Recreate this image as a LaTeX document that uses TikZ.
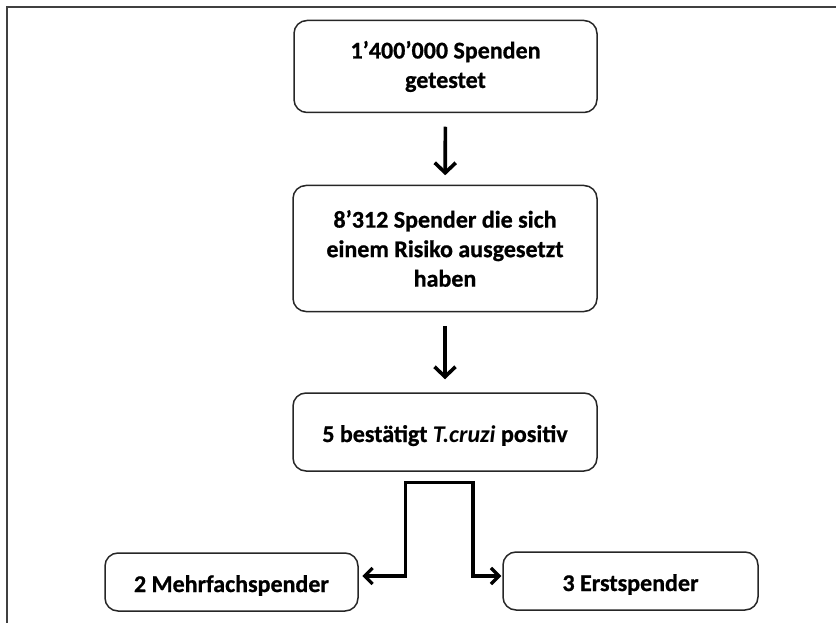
\documentclass[tikz,border=0pt]{standalone}
\usepackage{fontspec}
\setmainfont{Carlito}[BoldFeatures={FakeBold=0.8}]
\usetikzlibrary{arrows.meta,positioning}

\tikzset{
  stepbox/.style={draw=black!85,line width=1.5pt,rounded corners=13pt,
    align=center,font=\bfseries,inner sep=0pt},
  oneline/.style={text height=20pt,text depth=0pt},
  flow/.style={line width=3.6pt,-{Straight Barb[length=10pt,width=21pt]}},
  split/.style={line width=3.2pt,-{Straight Barb[length=8pt,width=16pt]}}
}

\begin{document}
\fontsize{24}{29.5}\selectfont
\begin{tikzpicture}[x=1pt,y=-1pt]
        % draw the frame
        \useasboundingbox (0,0) rectangle (836,623);
        \draw[black!75,line width=2pt] (836,7) -- (7,7) -- (7,623);
        % draw the boxes
        \node[stepbox,minimum width=303pt,minimum height=92pt] (tested) at (445.5,66.5) {1’400’000 Spenden\\getestet};
        \node[stepbox,minimum width=304pt,minimum height=126pt] (risk) at (445,248.5) {8’312 Spender die sich\\einem Risiko ausgesetzt\\haben};
        \node[stepbox,oneline,minimum width=304pt,minimum height=78pt] (positive) at (445,432) {5 bestätigt \textit{T.cruzi} positiv};
        \node[stepbox,oneline,minimum width=253pt,minimum height=58pt] (multi) at (231.5,582) {2 Mehrfachspender};
        \node[stepbox,oneline,minimum width=255pt,minimum height=58pt] (first) at (630.5,581) {3 Erstspender};
        % draw the arrows
        \draw[flow,shorten <=13.5pt,shorten >=9.5pt] (tested) -- (risk);
        \draw[flow,shorten <=13.5pt,shorten >=13pt] (risk) -- (positive);
        \coordinate (fork) at ([xshift=-2pt,yshift=-11pt]positive.south);
        \draw[split,shorten >=3.5pt] (fork) -- ++(-37.5,0) |- ([yshift=6pt]multi.east);
        \draw[split,shorten >=1pt] (fork) -- ++(30,0) |- ([yshift=5pt]first.west);
\end{tikzpicture}
\end{document}
